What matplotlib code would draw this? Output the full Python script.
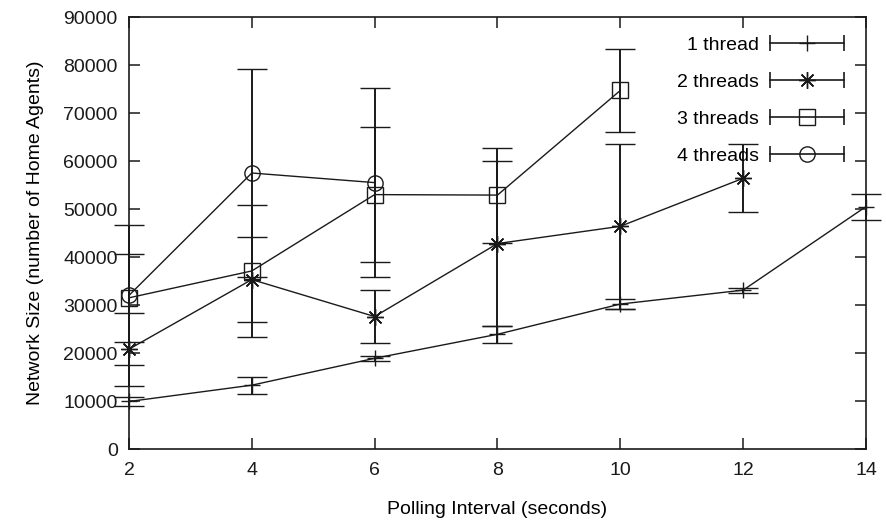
import matplotlib.pyplot as plt
from matplotlib.lines import Line2D
from matplotlib.legend_handler import HandlerLine2D, HandlerTuple

plt.rcParams['font.family'] = ['Liberation Sans', 'DejaVu Sans']

# polling interval (seconds)
x1 = [2, 4, 6, 8, 10, 12, 14]
y1 = [9900, 13300, 18900, 23900, 30200, 33100, 50500]
e1 = [1000, 1800, 500, 1750, 1000, 500, 2700]

x2 = [2, 4, 6, 8, 10, 12]
y2 = [20800, 35300, 27600, 42800, 46400, 56400]
e2 = [7600, 8900, 5500, 17200, 17200, 7100]

x3 = [2, 4, 6, 8, 10]
y3 = [31500, 37100, 53000, 52900, 74700]
e3 = [9200, 13800, 14100, 9900, 8700]

x4 = [2, 4, 6]
y4 = [32000, 57500, 55500]
e4 = [14600, 21600, 19700]

labels = ['1 thread', '2 threads', '3 threads', '4 threads']
markers = ['+', (8, 2, 0), 's', 'o']
msizes = [12, 12, 11, 11]

fig = plt.figure(figsize=(8.87, 5.2), dpi=100)
ax = fig.add_axes([0.1454, 0.1365, 0.8309, 0.8308])

c = '#1a1a1a'
series = [(x1, y1, e1), (x2, y2, e2), (x3, y3, e3), (x4, y4, e4)]
handles = []
hmap = {}
for (xs, ys, es), m, ms in zip(series, markers, msizes):
    cont = ax.errorbar(xs, ys, yerr=es, color=c, lw=1.0, elinewidth=1.4,
                       capsize=10.5, capthick=1.4, marker=m, ms=ms,
                       mfc='none', mec=c, mew=1.0)
    for art in cont.get_children():
        art.set_clip_on(False)
    # gnuplot style legend sample: line with caps at both ends, marker in the middle
    caps = Line2D([], [], color=c, lw=1.2, marker='|', ms=11, mew=1.2)
    mk = Line2D([], [], color=c, lw=0, marker=m, ms=ms, mfc='none', mec=c, mew=1.0)
    hmap[caps] = HandlerLine2D(numpoints=2)
    hmap[mk] = HandlerLine2D(numpoints=1)
    handles.append((caps, mk))

hmap[tuple] = HandlerTuple(ndivide=1)
ax.legend(handles, labels, handler_map=hmap, loc='upper right',
          bbox_to_anchor=(0.978, 0.955), frameon=False, markerfirst=False,
          fontsize=14, handlelength=4.4, handletextpad=0.28,
          labelspacing=1.0, borderpad=0, borderaxespad=0)

ax.set_xlim(2, 14)
ax.set_ylim(0, 90000)
ax.set_xticks([2, 4, 6, 8, 10, 12, 14])
ax.set_yticks(range(0, 90001, 10000))
ax.tick_params(direction='in', length=8, width=1.1, top=True, right=True,
               labelsize=14, colors=c)
ax.tick_params(axis='x', pad=9)
ax.tick_params(axis='y', pad=8)
for s in ax.spines.values():
    s.set_linewidth(1.2)
    s.set_color(c)

ax.set_xlabel('Polling Interval (seconds)', fontsize=14, labelpad=16)
ax.set_ylabel('Network Size (number of Home Agents)', fontsize=14, labelpad=14)

fig.savefig('out.png', dpi=100)
